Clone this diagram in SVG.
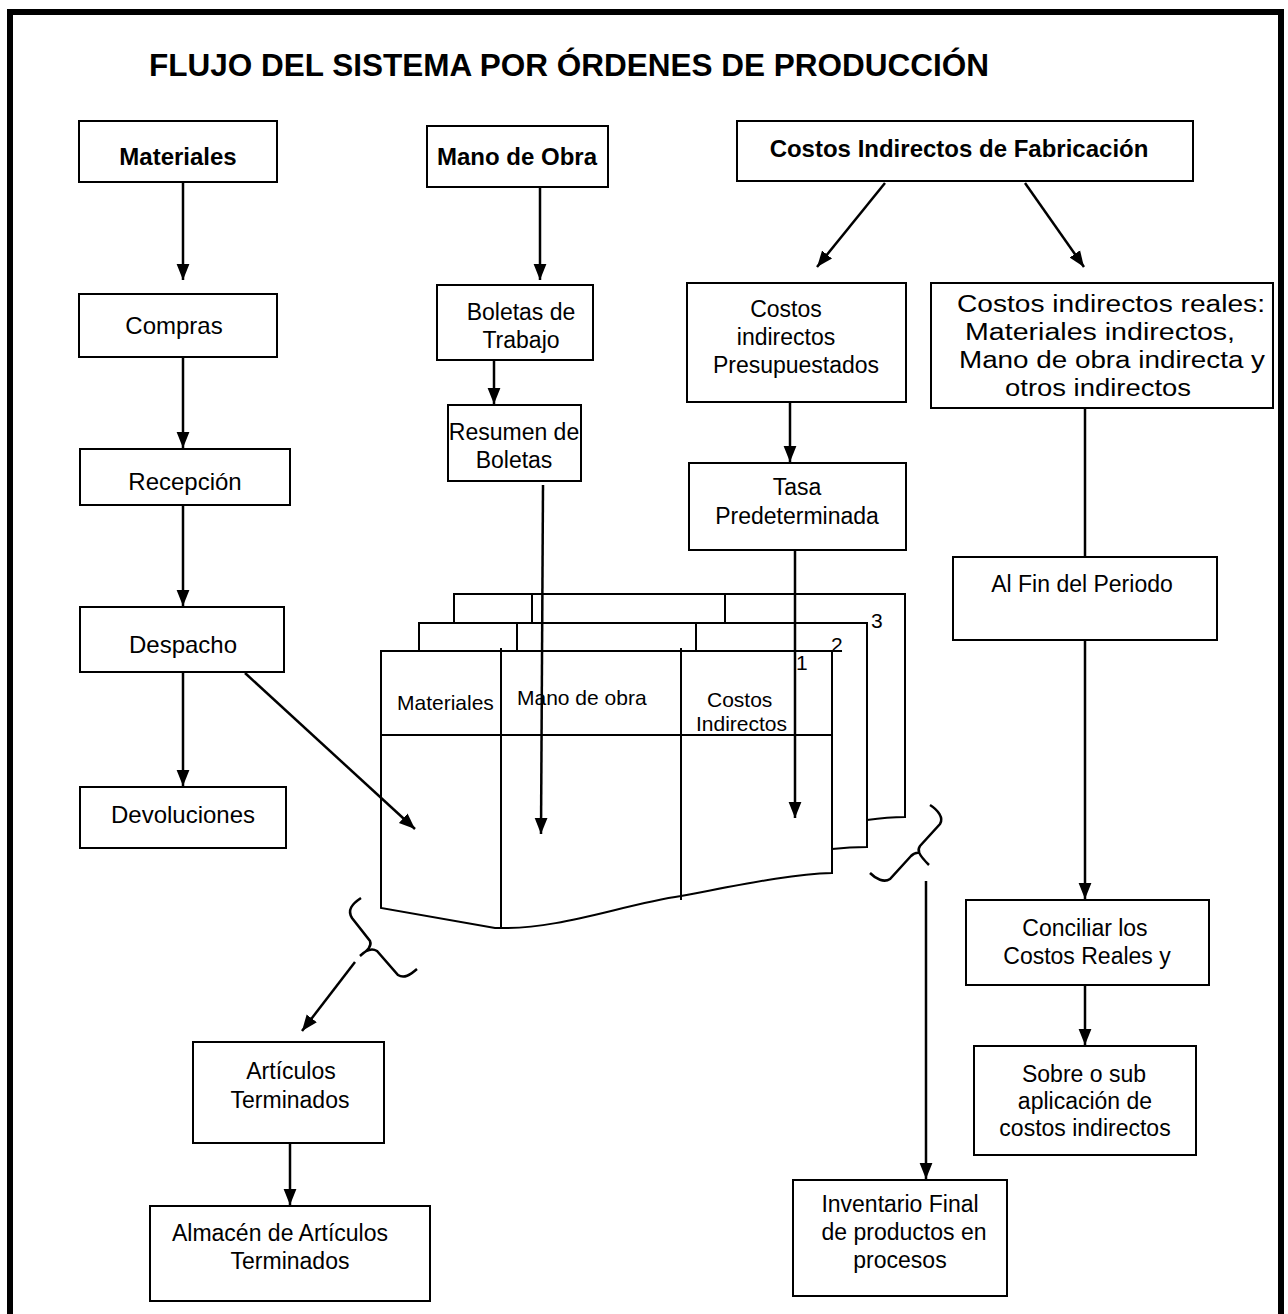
<svg xmlns="http://www.w3.org/2000/svg" width="1288" height="1314" viewBox="0 0 1288 1314">
<style>
.box{fill:#fff;stroke:#000;stroke-width:2}
.t{font-family:"Liberation Sans",Arial,sans-serif;font-size:23px;fill:#000;text-anchor:middle}
.l{font-size:24px}
.h{font-family:"Liberation Sans",Arial,sans-serif;font-size:24px;font-weight:bold;fill:#000;text-anchor:middle}
.s{font-family:"Liberation Sans",Arial,sans-serif;font-size:21px;fill:#000}
.ln{fill:none;stroke:#000;stroke-width:2.5}
.pg{fill:#fff;stroke:#000;stroke-width:2}
</style>
<defs>
<marker id="ah" markerUnits="userSpaceOnUse" markerWidth="16" markerHeight="22" refX="20" refY="8" viewBox="0 0 20 16" orient="auto">
<path d="M0,0 L20,8 L0,16 Z" fill="#000"/>
</marker>
</defs>
<rect x="0" y="0" width="1288" height="1314" fill="#fff"/>
<rect x="10" y="12" width="1271" height="1320" fill="none" stroke="#000" stroke-width="6"/>
<text x="569" y="76" font-family="Liberation Sans,Arial,sans-serif" font-size="31.5" font-weight="bold" text-anchor="middle">FLUJO DEL SISTEMA POR ÓRDENES DE PRODUCCIÓN</text>

<g id="doc-stack">
<path class="pg" d="M454,594 H905 V817 Q888,817 867,820 L454,820 Z"/>
<line class="pg" x1="532" y1="594" x2="532" y2="623"/>
<line class="pg" x1="725" y1="594" x2="725" y2="623"/>
<path class="pg" d="M419,623 H867 V847 Q850,847 832,849 L419,849 Z"/>
<line class="pg" x1="517" y1="623" x2="517" y2="651"/>
<line class="pg" x1="696" y1="623" x2="696" y2="651"/>
<path class="pg" d="M381,651 H832 V873 C790,874 740,885 681,896 C620,905 560,930 495,928 L381,908 Z"/>
<line class="pg" x1="832" y1="651" x2="842" y2="651"/>
<line class="pg" x1="381" y1="735" x2="832" y2="735"/>
<line class="pg" x1="501" y1="648" x2="501" y2="928"/>
<line class="pg" x1="681" y1="648" x2="681" y2="900"/>
<text class="s" x="397" y="710" font-size="20">Materiales</text>
<text class="s" x="517" y="705">Mano de obra</text>
<text class="s" x="707" y="707">Costos</text>
<text class="s" x="696" y="731">Indirectos</text>
<text class="s" x="796" y="670">1</text>
<text class="s" x="831" y="652">2</text>
<text class="s" x="871" y="628">3</text>
</g>

<g id="n-materiales"><rect class="box" x="79" y="121" width="198" height="61"/><text class="h" x="178" y="165">Materiales</text></g>
<g id="n-compras"><rect class="box" x="79" y="294" width="198" height="63"/><text class="t l" x="174" y="334">Compras</text></g>
<g id="n-recepcion"><rect class="box" x="80" y="449" width="210" height="56"/><text class="t l" x="185" y="490">Recepción</text></g>
<g id="n-despacho"><rect class="box" x="80" y="607" width="204" height="65"/><text class="t l" x="183" y="653">Despacho</text></g>
<g id="n-devoluciones"><rect class="box" x="80" y="787" width="206" height="61"/><text class="t l" x="183" y="823">Devoluciones</text></g>
<g id="n-mano"><rect class="box" x="427" y="126" width="181" height="61"/><text class="h" x="517" y="165">Mano de Obra</text></g>
<g id="n-boletas"><rect class="box" x="437" y="285" width="156" height="75"/><text class="t" x="521" y="320">Boletas de</text><text class="t" x="521" y="348">Trabajo</text></g>
<g id="n-resumen"><rect class="box" x="448" y="405" width="133" height="76"/><text class="t" x="514" y="440" font-size="20">Resumen de</text><text class="t" x="514" y="468" font-size="21">Boletas</text></g>
<g id="n-cif"><rect class="box" x="737" y="121" width="456" height="60"/><text class="h" x="959" y="157">Costos Indirectos de Fabricación</text></g>
<g id="n-presup"><rect class="box" x="687" y="283" width="219" height="119"/><text class="t" x="786" y="317">Costos</text><text class="t" x="786" y="345">indirectos</text><text class="t" x="796" y="373">Presupuestados</text></g>
<g id="n-tasa"><rect class="box" x="689" y="463" width="217" height="87"/><text class="t" x="797" y="495">Tasa</text><text class="t" x="797" y="524">Predeterminada</text></g>
<g id="n-reales"><rect class="box" x="931" y="283" width="342" height="125"/><text class="t" x="1111" y="312" textLength="308" lengthAdjust="spacingAndGlyphs">Costos indirectos reales:</text><text class="t" x="1100" y="340" textLength="270" lengthAdjust="spacingAndGlyphs">Materiales indirectos,</text><text class="t" x="1112" y="368" textLength="306" lengthAdjust="spacingAndGlyphs">Mano de obra indirecta y</text><text class="t" x="1098" y="396" textLength="186" lengthAdjust="spacingAndGlyphs">otros indirectos</text></g>
<g id="n-fin"><rect class="box" x="953" y="557" width="264" height="83"/><text class="t" x="1082" y="592" font-size="25">Al Fin del Periodo</text></g>
<g id="n-conciliar"><rect class="box" x="966" y="900" width="243" height="85"/><text class="t" x="1085" y="936">Conciliar los</text><text class="t" x="1087" y="964">Costos Reales y</text></g>
<g id="n-sobre"><rect class="box" x="974" y="1046" width="222" height="109"/><text class="t" x="1084" y="1082">Sobre o sub</text><text class="t" x="1085" y="1109">aplicación de</text><text class="t" x="1085" y="1136">costos indirectos</text></g>
<g id="n-inventario"><rect class="box" x="793" y="1180" width="214" height="116"/><text class="t" x="900" y="1212">Inventario Final</text><text class="t" x="904" y="1240">de productos en</text><text class="t" x="900" y="1268">procesos</text></g>
<g id="n-articulos"><rect class="box" x="193" y="1042" width="191" height="101"/><text class="t" x="291" y="1079" font-size="24">Artículos</text><text class="t" x="290" y="1108">Terminados</text></g>
<g id="n-almacen"><rect class="box" x="150" y="1206" width="280" height="95"/><text class="t" x="280" y="1241">Almacén de Artículos</text><text class="t" x="290" y="1269">Terminados</text></g>

<g id="connectors">
<line class="ln" x1="183" y1="182" x2="183" y2="280" marker-end="url(#ah)"/>
<line class="ln" x1="183" y1="357" x2="183" y2="448" marker-end="url(#ah)"/>
<line class="ln" x1="183" y1="505" x2="183" y2="606" marker-end="url(#ah)"/>
<line class="ln" x1="183" y1="672" x2="183" y2="786" marker-end="url(#ah)"/>
<line class="ln" x1="245" y1="673" x2="415" y2="829" marker-end="url(#ah)"/>
<line class="ln" x1="540" y1="187" x2="540" y2="280" marker-end="url(#ah)"/>
<line class="ln" x1="494" y1="360" x2="494" y2="404" marker-end="url(#ah)"/>
<line class="ln" x1="543" y1="485" x2="541" y2="834" marker-end="url(#ah)"/>
<line class="ln" x1="885" y1="183" x2="817" y2="267" marker-end="url(#ah)"/>
<line class="ln" x1="1025" y1="183" x2="1084" y2="267" marker-end="url(#ah)"/>
<line class="ln" x1="790" y1="402" x2="790" y2="462" marker-end="url(#ah)"/>
<line class="ln" x1="795" y1="550" x2="795" y2="818" marker-end="url(#ah)"/>
<line class="ln" x1="1085" y1="408" x2="1085" y2="557"/>
<line class="ln" x1="1085" y1="640" x2="1085" y2="899" marker-end="url(#ah)"/>
<line class="ln" x1="1085" y1="985" x2="1085" y2="1045" marker-end="url(#ah)"/>
<line class="ln" x1="926" y1="881" x2="926" y2="1179" marker-end="url(#ah)"/>
<line class="ln" x1="290" y1="1143" x2="290" y2="1205" marker-end="url(#ah)"/>
<line class="ln" x1="355" y1="962" x2="302" y2="1031" marker-end="url(#ah)"/>
<path class="ln" stroke-width="2" d="M361,898 C352,904 347,910 352,918 L370,941 C372,946 368,950 360,956 M360,956 C366,950 372,948 377,951 L398,975 C404,979 410,975 417,969"/>
<path class="ln" stroke-width="2" d="M930,805 C938,810 944,818 940,824 L920,846 C917,850 918,854 929,865 M920,853 C916,852 913,854 911,856 L890,879 C884,883 876,879 870,873"/>
</g>
</svg>
